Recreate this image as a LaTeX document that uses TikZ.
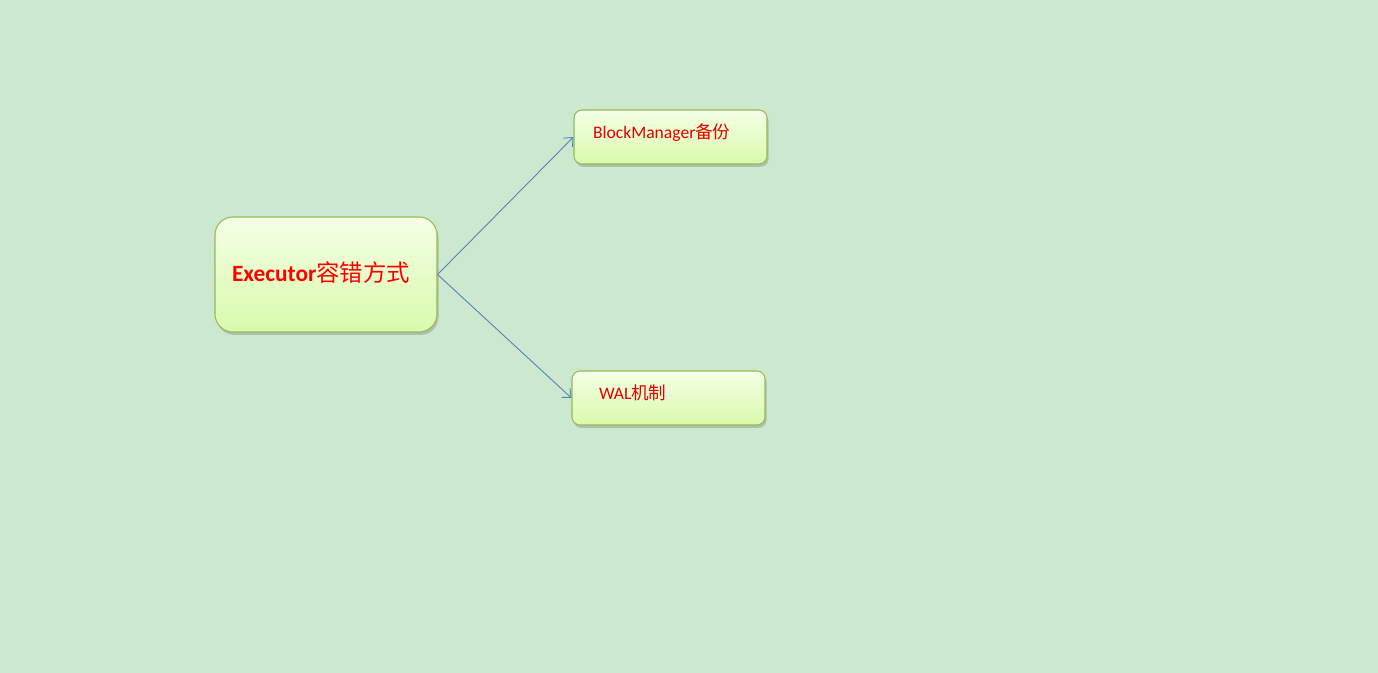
\documentclass[tikz,border=0pt]{standalone}
\usepackage{fontspec}
\setmainfont{Carlito}
\newfontfamily\cjk{Noto Sans CJK SC}
\usetikzlibrary{arrows.meta,shadows}
\definecolor{bgcolor}{RGB}{204,232,207}
\definecolor{boxtop}{RGB}{244,255,230}
\definecolor{boxbottom}{RGB}{218,250,172}
\definecolor{boxline}{RGB}{150,186,84}
\definecolor{linkblue}{RGB}{79,129,189}
\begin{document}
\begin{tikzpicture}
      \tikzstyle{topic} = [rectangle, draw=boxline, line width=0.6pt, top color=boxtop, bottom color=boxbottom,
        drop shadow={shadow xshift=0.03cm, shadow yshift=-0.06cm, opacity=0.3, fill=black!60}]
      \tikzstyle{root} = [topic, rounded corners=0.36cm, minimum width=4.44cm, text width=3.76cm,
        inner xsep=0.34cm, inner ysep=0pt, text height=1.30cm, text depth=1.00cm, align=left,
        text=red, font=\fontsize{13.3}{15}\selectfont\bfseries]
      \tikzstyle{leaf} = [topic, rounded corners=0.16cm, minimum width=3.86cm, text width=3.1cm,
        inner xsep=0.38cm, inner ysep=0pt, text height=0.58cm, text depth=0.50cm, align=left,
        text=red!90!black, font=\fontsize{10}{12}\selectfont]
      \tikzstyle{arrow} = [draw=linkblue, line width=0.5pt, -{Straight Barb[length=4pt,width=7pt]}]

      \fill[bgcolor] (0,0) rectangle (27.56,-13.46);
      \useasboundingbox (0,0) rectangle (27.56,-13.46);

      \node (executor) [root] at (6.52,-5.49) {Executor{\cjk\mdseries 容错方式}};
      \node (blockmgr) [leaf] at (13.41,-2.74) {BlockManager{\cjk 备份}};
      \node (wal) [leaf, text width=2.78cm, inner xsep=0.54cm] at (13.37,-7.96) {WAL{\cjk 机制}};

      \draw [arrow] (executor.east) -- (blockmgr.west);
      \draw [arrow] (executor.east) -- (wal.west);
\end{tikzpicture}
\end{document}
